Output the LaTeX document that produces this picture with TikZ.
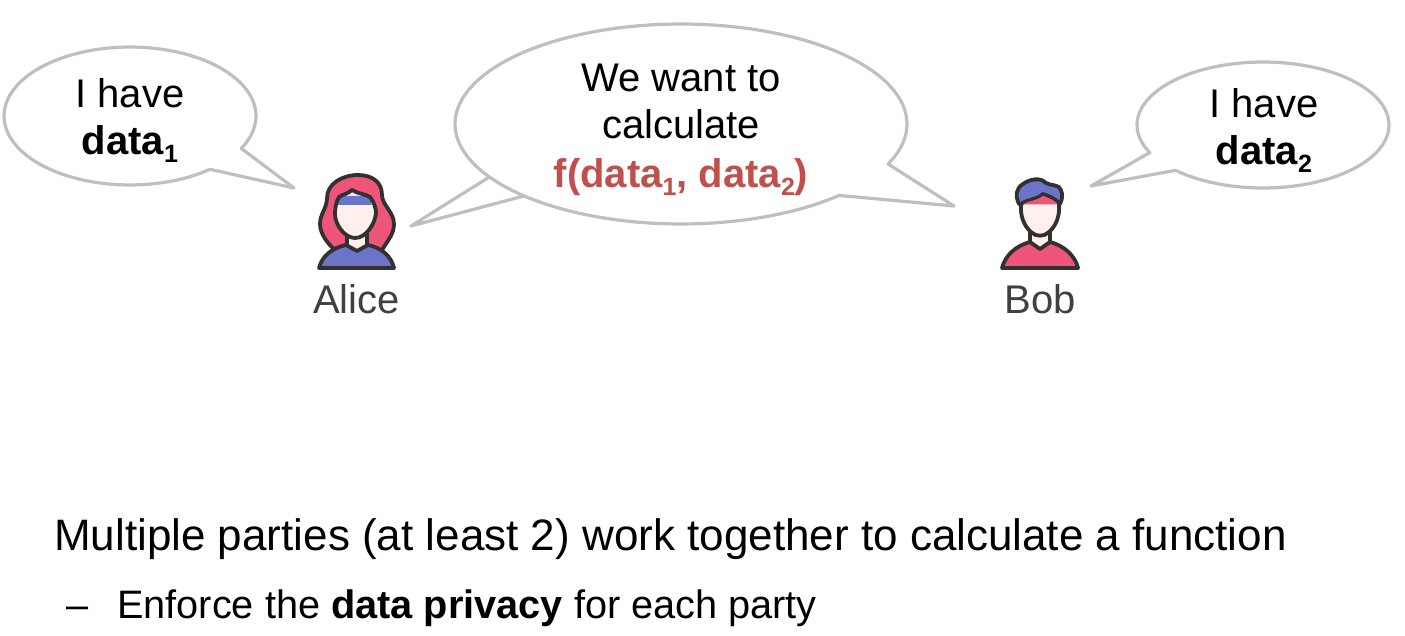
\documentclass[tikz,border=0pt]{standalone}
\usepackage{fontspec}
\setmainfont{Liberation Sans}
\newcommand{\lowsub}[1]{\raisebox{-0.18em}{\fontsize{25}{25}\selectfont #1}}
\definecolor{bubblegray}{HTML}{BFBFBF}
\definecolor{ink}{HTML}{333031}
\definecolor{rosey}{HTML}{EE5578}
\definecolor{bluey}{HTML}{6A75C9}
\definecolor{skin}{HTML}{FFF0EE}
\definecolor{redtext}{HTML}{C0504D}
\definecolor{labeltext}{HTML}{404040}
\tikzset{
  bubble/.style={draw=bubblegray,line width=3.2pt,fill=white,line join=round},
  iconline/.style={draw=ink,line width=3.8pt,line join=round,line cap=round},
  bigtext/.style={font=\fontsize{40}{48}\selectfont,inner sep=0pt,text=black},
  hugetext/.style={font=\fontsize{44}{52}\selectfont,inner sep=0pt,text=black},
  midtext/.style={font=\fontsize{39.7}{48}\selectfont,inner sep=0pt,text=black},
  nametext/.style={font=\fontsize{40}{48}\selectfont,inner sep=0pt,text=labeltext}
}
\begin{document}
\begin{tikzpicture}[x=1pt,y=-1pt]
\useasboundingbox (0,0) rectangle (1405,636);
% bubbles
\draw[bubble] plot[domain=50.6:388,samples=90] ({130+126*cos(\x)},{116+69*sin(\x)}) -- (294,188) -- cycle;
\draw[bubble] plot[domain=45.6:383.6,samples=110] ({681+226*cos(\x)},{124+100*sin(\x)}) -- (954,206) -- cycle;
\coordinate (tailtop) at ({681+226*cos(148)},{124+100*sin(148)});
\coordinate (tailtip) at (411,226);
\coordinate (tailbot) at ({681+226*cos(134)},{124+100*sin(134)});
\draw[bubble,fill=none] (tailtop) -- (tailtip) -- (tailbot);
\draw[bubble] plot[domain=154:494,samples=90] ({1263+126*cos(\x)},{125+63*sin(\x)}) -- (1091,186) -- cycle;
% Alice
\draw[iconline,fill=rosey] (358,175) .. controls (372,175) and (382,182) .. (382,195) .. controls (382,205) and (394,212) .. (394,224) .. controls (394,234) and (388,240) .. (382,250) -- (335,250) .. controls (328,244) and (320,234) .. (320,224) .. controls (320,214) and (327,208) .. (327,198) .. controls (327,184) and (342,175) .. (358,175) -- cycle;
\fill[skin] (347,232) rectangle (367,250);
\draw[iconline] (347,232) -- (347,245) (367,232) -- (367,245);
\draw[iconline,fill=bluey] (319,268) .. controls (322,256) and (332,248) .. (346,245) -- (357,251) -- (368,245) .. controls (382,248) and (391,256) .. (394,268) -- cycle;
\fill[skin] (352,190) .. controls (358,194) and (366,194) .. (370,197) .. controls (374,202) and (376,208) .. (376,213) .. controls (375,224) and (366,238) .. (355,238) .. controls (345,238) and (335,225) .. (335,214) .. controls (335,208) and (336,202) .. (339,197) .. controls (343,194) and (348,194) .. (352,190) -- cycle;
\fill[bluey] (339.5,196) -- (370,196) -- (371.5,205) -- (338,205) -- cycle;
\draw[iconline] (352,190) .. controls (358,194) and (366,194) .. (370,197) .. controls (374,202) and (376,208) .. (376,213) .. controls (375,224) and (366,238) .. (355,238) .. controls (345,238) and (335,225) .. (335,214) .. controls (335,208) and (336,202) .. (339,197) .. controls (343,194) and (348,194) .. (352,190) -- cycle;
% Bob
\fill[skin] (1030,232) rectangle (1050,246);
\draw[iconline] (1030,232) -- (1030,242) (1050,232) -- (1050,242);
\draw[iconline,fill=rosey] (1002,268) .. controls (1005,256) and (1015,246) .. (1030,242) -- (1040,249) -- (1050,242) .. controls (1065,246) and (1075,256) .. (1078,268) -- cycle;
\fill[skin] (1021,204) -- (1059,204) .. controls (1060,216) and (1056,226) .. (1049,232) .. controls (1044,237) and (1036,237) .. (1031,232) .. controls (1024,226) and (1020,216) .. (1021,204) -- cycle;
\draw[iconline,fill=bluey] (1019,204) .. controls (1015,196) and (1016,188) .. (1023,184) .. controls (1030,179) and (1040,177) .. (1046,183) .. controls (1051,186) and (1059,184) .. (1061,190) .. controls (1063,195) and (1062,200) .. (1060,204) .. controls (1055,198) and (1048,196) .. (1043,194) .. controls (1036,200) and (1028,199) .. (1021,204) -- cycle;
\fill[rosey] (1022.5,204.5) .. controls (1028,201) and (1036,201) .. (1043,196) .. controls (1048,198) and (1054,200) .. (1058,204.5) -- cycle;
\draw[iconline] (1021,204) .. controls (1020,216) and (1024,226) .. (1031,232) .. controls (1036,237) and (1044,237) .. (1049,232) .. controls (1056,226) and (1060,216) .. (1059,204);
% text
\node[bigtext,anchor=base] (a1) at (130,108) {I have};
\node[bigtext,anchor=base] (a2) at (130,155) {\textbf{data\lowsub{1}}};
\node[bigtext,anchor=base] (m1) at (681,92) {We want to};
\node[bigtext,anchor=base] (m2) at (681,139) {calculate};
\node[bigtext,anchor=base,text=redtext] (m3) at (681,188) {\textbf{f(data\lowsub{1}, data\lowsub{2})}};
\node[bigtext,anchor=base] (b1) at (1264,118) {I have};
\node[bigtext,anchor=base] (b2) at (1264,165) {\textbf{data\lowsub{2}}};
\node[nametext,anchor=base] (alice) at (356.5,313) {Alice};
\node[nametext,anchor=base] (bob) at (1040,313) {Bob};
\node[hugetext,anchor=base west] (t1) at (54,550) {Multiple parties (at least 2) work together to calculate a function};
\node[midtext,anchor=base west] (d) at (66,618) {–};
\node[midtext,anchor=base west] (t2) at (117,618) {Enforce the \textbf{data privacy} for each party};
\end{tikzpicture}
\end{document}
